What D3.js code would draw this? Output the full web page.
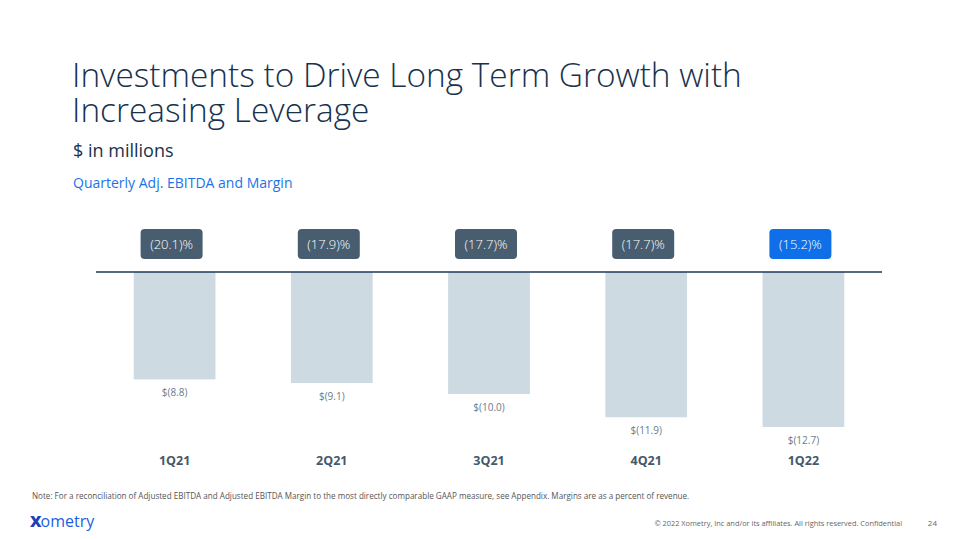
<!DOCTYPE html>
<html><head><meta charset="utf-8">
<script src="https://cdn.jsdelivr.net/npm/d3@7"></script>
<style>
body{margin:0;background:#fff;}
svg{display:block;font-family:"Open Sans",sans-serif;}
</style></head>
<body>
<svg id="chart" width="960" height="540"></svg>
<script>
const categories = ["1Q21","2Q21","3Q21","4Q21","1Q22"];
const ebitda = [-8.8,-9.1,-10.0,-11.9,-12.7];
const ebitdaLabels = ["$(8.8)","$(9.1)","$(10.0)","$(11.9)","$(12.7)"];
const margins = [-20.1,-17.9,-17.7,-17.7,-15.2];
const marginLabels = ["(20.1)%","(17.9)%","(17.7)%","(17.7)%","(15.2)%"];

const svg = d3.select("#chart");
svg.append("rect").attr("width",960).attr("height",540).attr("fill","#fff");

// Titles
svg.append("text").attr("x",72).attr("y",87).attr("fill","#17324d")
  .style("font-size","33.4px").style("font-weight","300")
  .text("Investments to Drive Long Term Growth with");
svg.append("text").attr("x",72).attr("y",122).attr("fill","#17324d")
  .style("font-size","33.4px").style("font-weight","300")
  .text("Increasing Leverage");
svg.append("text").attr("x",73).attr("y",157).attr("fill","#17324d")
  .style("font-size","18px").text("$ in millions");
svg.append("text").attr("x",73).attr("y",188).attr("fill","#1a73e8")
  .style("font-size","14px").text("Quarterly Adj. EBITDA and Margin");

// Chart
const x = d3.scaleBand().domain(categories).range([96,882]).paddingInner(0.48).paddingOuter(0.24);
const y = d3.scaleLinear().domain([0,-12.7]).range([272,427]);

svg.append("g").selectAll("rect").data(ebitda).join("rect")
  .attr("x",(d,i)=>x(categories[i]))
  .attr("y",y(0))
  .attr("width",x.bandwidth())
  .attr("height",d=>y(d)-y(0))
  .attr("fill","#cddae1");

svg.append("line").attr("x1",96).attr("x2",882).attr("y1",y(0)).attr("y2",y(0))
  .attr("stroke","#1c3a56").attr("stroke-width",1.6);

svg.append("g").selectAll("text").data(ebitda).join("text")
  .attr("x",(d,i)=>x(categories[i])+x.bandwidth()/2)
  .attr("y",d=>y(d)+17)
  .attr("text-anchor","middle").attr("fill","#6b7c8a")
  .style("font-size","10px")
  .text((d,i)=>ebitdaLabels[i]);

const xAxis = svg.append("g").attr("transform","translate(0,461)")
  .call(d3.axisBottom(x).tickSize(0).tickPadding(0));
xAxis.select(".domain").remove();
xAxis.selectAll("text").attr("fill","#44596c").attr("dy","0.35em")
  .style("font-size","12.5px").style("font-weight","700").style("font-family","'Open Sans',sans-serif");

// Margin badges
const bw = 62, bh = 30;
const badges = svg.append("g").selectAll("g").data(margins).join("g")
  .attr("transform",(d,i)=>`translate(${x(categories[i])+x.bandwidth()/2-3},244)`);
badges.append("rect").attr("x",-bw/2).attr("y",-bh/2).attr("width",bw).attr("height",bh)
  .attr("rx",4).attr("fill",(d,i)=>i===margins.length-1?"#0f6fe8":"#485e70");
badges.append("text").attr("text-anchor","middle").attr("dy","0.35em")
  .attr("fill","#fff").style("font-size","13px").style("font-weight","300").text((d,i)=>marginLabels[i]);

// Footer
svg.append("text").attr("x",32).attr("y",499).attr("fill","#555")
  .style("font-size","8.1px")
  .text("Note: For a reconciliation of Adjusted EBITDA and Adjusted EBITDA Margin to the most directly comparable GAAP measure, see Appendix. Margins are as a percent of revenue.");
svg.append("text").attr("x",902).attr("y",526).attr("text-anchor","end").attr("fill","#666")
  .style("font-size","7.4px").text("© 2022  Xometry, Inc and/or its affiliates. All rights reserved. Confidential");
svg.append("text").attr("x",937).attr("y",526).attr("text-anchor","end").attr("fill","#666")
  .style("font-size","8px").text("24");
const logo = svg.append("text").attr("x",30).attr("y",527).style("font-size","16px");
logo.append("tspan").attr("fill","#1d3fb8").style("font-weight","800").text("X");
logo.append("tspan").attr("fill","#1a5fe0").attr("dx","-1").text("ometry");
</script>
</body></html>
